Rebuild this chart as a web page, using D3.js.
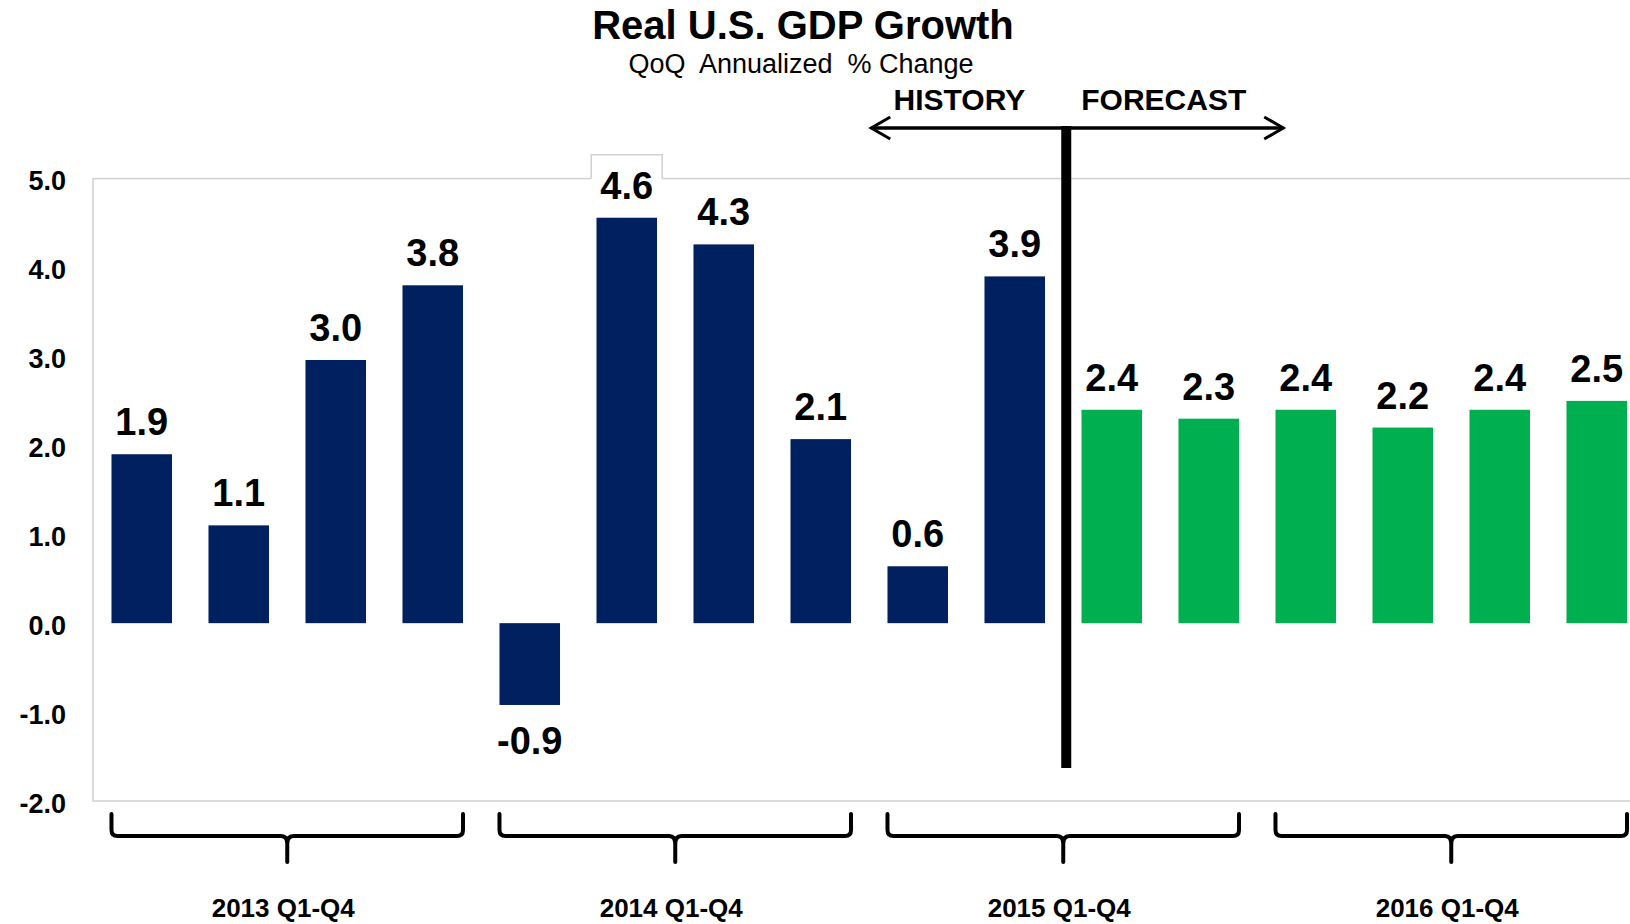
<!DOCTYPE html>
<html>
<head>
<meta charset="utf-8">
<script src="https://cdn.jsdelivr.net/npm/d3@7"></script>
<style>
body { margin: 0; background: #ffffff; }
svg { display: block; overflow: hidden; }
text { font-family: "Liberation Sans", Arial, sans-serif; fill: #000; }
</style>
</head>
<body>
<script>
// data (bar heights estimated, labels rounded to 1 decimal)
var quarters = ["2013Q1", "2013Q2", "2013Q3", "2013Q4",
                "2014Q1", "2014Q2", "2014Q3", "2014Q4",
                "2015Q1", "2015Q2", "2015Q3", "2015Q4",
                "2016Q1", "2016Q2", "2016Q3", "2016Q4"];
var growth = [1.9, 1.1, 2.96, 3.8, -0.92, 4.56, 4.26, 2.07, 0.64, 3.9, 2.4, 2.3, 2.4, 2.2, 2.4, 2.5];
var forecastStart = 10;   // first forecast quarter (2015Q3)
var yearLabels = ["2013 Q1-Q4", "2014 Q1-Q4", "2015 Q1-Q4", "2016 Q1-Q4"];
var yTicks = [-2, -1, 0, 1, 2, 3, 4, 5];

var width = 1630, height = 924;
var histColor = "#002060", fcstColor = "#00b050";

var svg = d3.select("body").append("svg")
    .attr("width", width)
    .attr("height", height);

// scales (plot runs past the right edge of the picture)
var x = d3.scaleBand()
    .domain(quarters)
    .range([93.25, 1645.25])
    .paddingInner(0.376)
    .paddingOuter(0.188);
var y = d3.scaleLinear()
    .domain([-2, 5])
    .range([801, 178.6]);

// title
svg.append("text").attr("x", 803).attr("y", 39)
    .attr("text-anchor", "middle")
    .style("font-size", "40px").style("font-weight", "bold")
    .text("Real U.S. GDP Growth");
svg.append("text").attr("x", 801).attr("y", 73)
    .attr("text-anchor", "middle")
    .style("font-size", "27px")
    .style("white-space", "pre")
    .text("QoQ  Annualized  % Change");

// plot border
svg.append("rect")
    .attr("x", 93).attr("y", y(5))
    .attr("width", 1570).attr("height", y(-2) - y(5))
    .attr("fill", "none")
    .attr("stroke", "#d0d0d0")
    .attr("stroke-width", 1.5);

// y axis
var yAxis = d3.axisLeft(y)
    .tickValues(yTicks)
    .tickFormat(function (d) { return d.toFixed(1); })
    .tickSize(0)
    .tickPadding(27);
var gy = svg.append("g").attr("transform", "translate(93,0)").call(yAxis);
gy.select(".domain").remove();
gy.selectAll("text")
    .attr("dy", "0.42em")
    .style("font-size", "27px")
    .style("font-weight", "bold");

// bars
svg.selectAll(".bar").data(growth).enter().append("rect")
    .attr("class", "bar")
    .attr("x", function (d, i) { return x(quarters[i]); })
    .attr("y", function (d) { return y(Math.max(0, d)); })
    .attr("width", x.bandwidth())
    .attr("height", function (d) { return Math.abs(y(d) - y(0)); })
    .attr("fill", function (d, i) { return i < forecastStart ? histColor : fcstColor; });

// white box behind the highest label (it sits over the border)
var maxIdx = growth.indexOf(d3.max(growth));
var bx = x(quarters[maxIdx]) + x.bandwidth() / 2;
var by = y(growth[maxIdx]) - 19;
svg.append("rect")
    .attr("x", bx - 35.5).attr("y", by - 44)
    .attr("width", 71).attr("height", 48)
    .attr("fill", "#ffffff");
svg.append("path")
    .attr("d", "M" + (bx - 35.5) + "," + y(5) + "V" + (by - 44) + "H" + (bx + 35.5) + "V" + y(5))
    .attr("fill", "none")
    .attr("stroke", "#d0d0d0")
    .attr("stroke-width", 1.5);

// value labels
svg.selectAll(".val").data(growth).enter().append("text")
    .attr("class", "val")
    .attr("x", function (d, i) { return x(quarters[i]) + x.bandwidth() / 2; })
    .attr("y", function (d) { return d >= 0 ? y(d) - 19 : y(d) + 49; })
    .attr("text-anchor", "middle")
    .style("font-size", "38px").style("font-weight", "bold")
    .text(function (d) { return d.toFixed(1); });

// history / forecast divider
var divX = (x(quarters[forecastStart - 1]) + x.bandwidth() + x(quarters[forecastStart])) / 2 + 3;
var arrowY = 128;
svg.append("line")
    .attr("x1", divX).attr("x2", divX)
    .attr("y1", arrowY - 2).attr("y2", 768)
    .attr("stroke", "#000").attr("stroke-width", 10);
svg.append("line")
    .attr("x1", divX - 195).attr("x2", divX + 217)
    .attr("y1", arrowY).attr("y2", arrowY)
    .attr("stroke", "#000").attr("stroke-width", 3.5);
svg.append("path")
    .attr("d", "M" + (divX - 176) + "," + (arrowY - 11) + "L" + (divX - 195) + "," + arrowY + "L" + (divX - 176) + "," + (arrowY + 11) +
               "M" + (divX + 198) + "," + (arrowY - 11) + "L" + (divX + 217) + "," + arrowY + "L" + (divX + 198) + "," + (arrowY + 11))
    .attr("fill", "none")
    .attr("stroke", "#000").attr("stroke-width", 3);
svg.append("text").attr("x", divX - 41).attr("y", 110)
    .attr("text-anchor", "end")
    .style("font-size", "30px").style("font-weight", "bold")
    .text("HISTORY");
svg.append("text").attr("x", divX + 15).attr("y", 110)
    .attr("text-anchor", "start")
    .style("font-size", "30px").style("font-weight", "bold")
    .text("FORECAST");

// year brackets under the axis
var bTop = y(-2) + 13, bLine = y(-2) + 35, bBot = y(-2) + 61, r = 6;
yearLabels.forEach(function (lab, g) {
    var x0 = x(quarters[g * 4]);
    var x1 = x(quarters[g * 4 + 3]) + x.bandwidth();
    var cx = (x0 + x1) / 2;
    var p = "M" + x0 + "," + bTop + "V" + (bLine - r) + "Q" + x0 + "," + bLine + " " + (x0 + r) + "," + bLine +
            "H" + (cx - r) + "Q" + cx + "," + bLine + " " + cx + "," + (bLine + r + 2) + "V" + bBot +
            "M" + cx + "," + (bLine + r + 2) + "Q" + cx + "," + bLine + " " + (cx + r) + "," + bLine +
            "H" + (x1 - r) + "Q" + x1 + "," + bLine + " " + x1 + "," + (bLine - r) + "V" + bTop;
    svg.append("path").attr("d", p)
        .attr("fill", "none")
        .attr("stroke", "#000").attr("stroke-width", 4)
        .attr("stroke-linecap", "round");
    svg.append("text").attr("x", cx - 4).attr("y", y(-2) + 116)
        .attr("text-anchor", "middle")
        .style("font-size", "26px").style("font-weight", "bold")
        .text(lab);
});
</script>
</body>
</html>
